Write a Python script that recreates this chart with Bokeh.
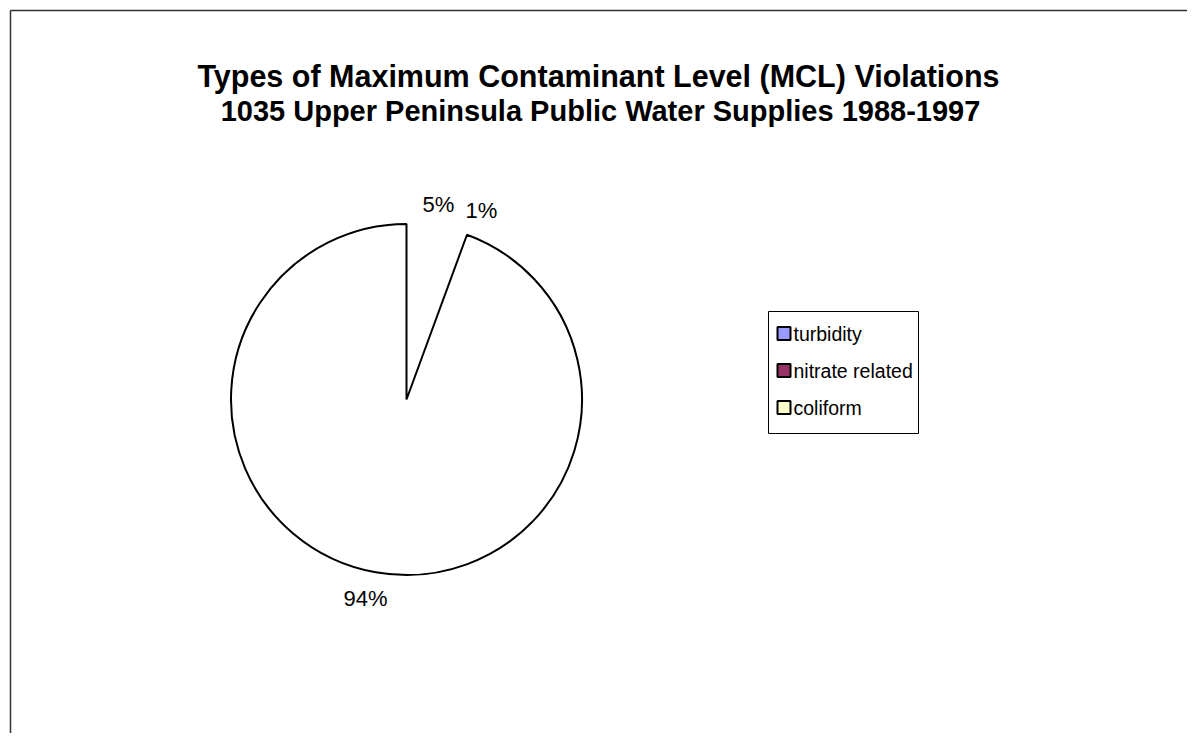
import math
from bokeh.plotting import figure
from bokeh.models import Range1d
from bokeh.core.properties import value
from bokeh.embed import file_html
from bokeh.resources import INLINE

# ---- data ----
categories = ["turbidity", "nitrate related", "coliform"]
counts = [47, 9, 944]
colors = ["#9999FF", "#993366", "#FFFFCC"]
pct_labels = ["5%", "1%", "94%"]
title_line1 = "Types of Maximum Contaminant Level (MCL) Violations"
title_line2 = "1035 Upper Peninsula Public Water Supplies 1988-1997"

W, H = 1187, 733
FONT = "Liberation Sans"

p = figure(width=W, height=H, output_backend="svg", toolbar_location=None,
           x_range=Range1d(0, W), y_range=Range1d(0, H),
           min_border=0, outline_line_color=None)
p.axis.visible = False
p.grid.visible = False
p.background_fill_color = "white"
p.border_fill_color = "white"

def Y(sy):
    return H - sy

# outer frame (top and left edges visible; right/bottom fall outside)
p.segment(x0=[10, 10], y0=[Y(10), Y(10)], x1=[1400, 10], y1=[Y(10), Y(1000)],
          line_color="#333333", line_width=1.5)

# titles
p.text(x=[598], y=[Y(75)], text=[title_line1], text_font=value(FONT),
       text_font_size="30.5px", text_font_style="bold", text_align="center",
       text_baseline="alphabetic", text_color="black")
p.text(x=[600], y=[Y(110)], text=[title_line2], text_font=value(FONT),
       text_font_size="29px", text_font_style="bold", text_align="center",
       text_baseline="alphabetic", text_color="black")

# pie
cx, cy, r = 406, Y(399), 175.5
total = float(sum(counts))
cum = 0.0
starts, ends = [], []
for c in counts:
    f0 = cum / total
    cum += c
    f1 = cum / total
    starts.append(math.radians(90 - f1 * 360))
    ends.append(math.radians(90 - f0 * 360))

# only the coliform slice is visibly drawn in the reference
i = 2
p.wedge(x=cx, y=cy, radius=r, start_angle=starts[i], end_angle=ends[i],
        direction="anticlock", fill_color="white", line_color="black", line_width=2)

# percent labels
lab_x = [438, 481, 365]
lab_y = [204, 210, 598]
p.text(x=lab_x, y=[Y(v) for v in lab_y], text=pct_labels, text_font=value(FONT),
       text_font_size="22px", text_align="center", text_baseline="alphabetic",
       text_color="black")

# legend
lx0, ly0, lx1, ly1 = 768, 311, 918, 433
p.quad(left=[lx0], right=[lx1], top=[Y(ly0)], bottom=[Y(ly1)],
       fill_color="white", line_color="black", line_width=1)
rows = [333, 370, 407]
sq = 13
p.quad(left=[777] * 3, right=[777 + sq] * 3,
       top=[Y(ry - sq / 2) for ry in rows], bottom=[Y(ry + sq / 2) for ry in rows],
       fill_color=colors, line_color="black", line_width=2)
p.text(x=[793] * 3, y=[Y(ry) for ry in rows], text=categories, text_font=value(FONT),
       text_font_size="19.5px", text_align="left", text_baseline="middle",
       text_color="black")

open("out.html", "w").write(file_html(p, INLINE))
